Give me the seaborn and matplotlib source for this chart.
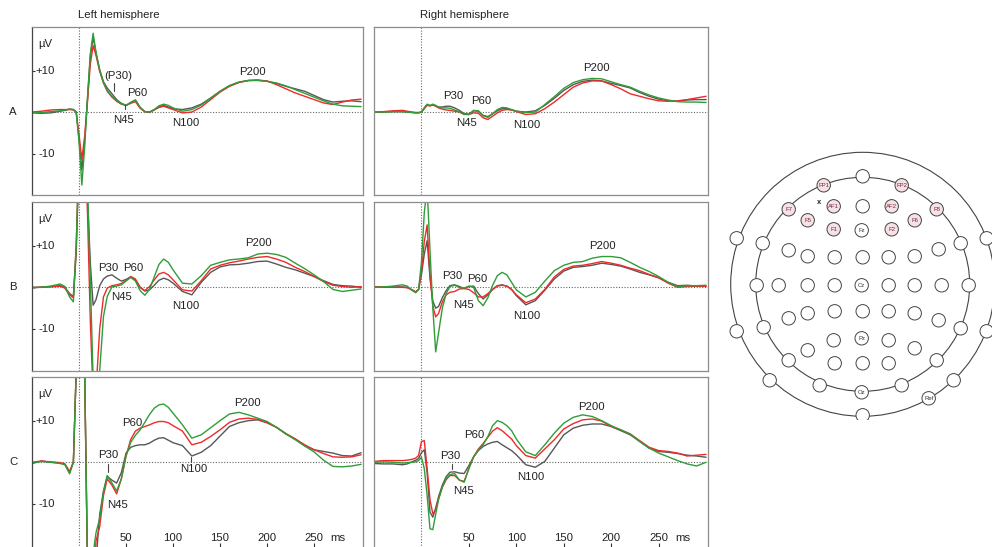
import pandas as pd
import matplotlib
matplotlib.use("Agg")
import matplotlib.pyplot as plt
from matplotlib.patches import Circle
import seaborn as sns

# time axis in ms, shared by every trace
t_ms = [-50, -40, -30, -20, -15, -10, -6, -3,
        0, 3, 6, 9, 12, 15, 18, 22, 26, 30,
        35, 40, 45, 50, 55, 60, 65, 70, 75, 80, 85, 90, 95, 100,
        110, 120, 130, 140, 150, 160, 170, 180, 190, 200,
        210, 220, 230, 240, 250, 260, 270, 280, 290, 300]

# --- row A ---
a_left_black = [-0.2, -0.3, -0.2, 0.2, 0.4, 0.7, 0.6, 0.0,
                -6.5, -14.0, -7.0, 3.0, 13.5, 18.0, 14.3, 10.2, 7.3, 5.8,
                4.4, 3.0, 2.1, 1.6, 2.3, 2.9, 1.1, 0.1, -0.1, 0.5, 1.2, 1.6, 1.2, 0.8,
                0.6, 1.0, 1.9, 3.4, 5.0, 6.3, 7.2, 7.6, 7.7, 7.4, 6.9, 6.2, 5.6, 5.0, 4.0, 3.0, 2.4, 2.6, 2.7, 2.5]
a_left_red = [0.0, 0.2, 0.5, 0.6, 0.6, 0.6, 0.5, 0.0,
              -5.5, -11.4, -5.8, 2.5, 11.5, 16.0, 13.7, 9.8, 7.0, 5.0,
              3.6, 2.6, 1.9, 1.6, 2.1, 2.5, 0.9, 0.1, 0.0, 0.6, 1.1, 1.4, 1.0, 0.6,
              -0.2, 0.0, 1.2, 3.0, 4.8, 6.2, 7.1, 7.6, 7.7, 7.5, 6.6, 5.6, 4.6, 3.8, 3.0, 2.2, 1.8, 2.4, 2.9, 3.1]
a_left_green = [-0.1, -0.1, 0.1, 0.3, 0.5, 0.7, 0.6, 0.0,
                -7.0, -17.6, -8.5, 3.5, 14.0, 19.0, 14.5, 10.0, 7.1, 5.2,
                3.8, 2.7, 2.0, 1.6, 2.3, 2.9, 1.1, 0.1, 0.0, 0.6, 1.5, 1.9, 1.6, 1.0,
                0.2, 0.6, 1.7, 3.3, 5.0, 6.4, 7.2, 7.6, 7.6, 7.4, 7.0, 6.3, 5.4, 4.5, 3.6, 2.7, 1.9, 1.5, 1.4, 1.3]

a_right_black = [0.0, 0.0, 0.1, 0.1, 0.0, -0.1, -0.2, -0.2,
                 0.0, 1.0, 1.8, 1.5, 1.7, 1.5, 1.2, 1.2, 1.4, 1.4,
                 1.0, 0.4, -0.4, -0.5, 0.3, 0.2, -0.8, -1.1, -0.4, 0.3, 0.8, 0.8, 0.5, 0.2,
                 0.0, 0.3, 1.6, 3.3, 5.2, 6.6, 7.4, 7.7, 7.5, 6.9, 6.4, 5.8, 4.7, 3.8, 3.1, 2.7, 2.6, 2.9, 3.0, 3.0]
a_right_red = [0.0, 0.1, 0.3, 0.4, 0.2, 0.0, -0.1, -0.1,
               0.0, 0.8, 1.6, 1.5, 1.7, 1.4, 1.0, 0.7, 0.5, 0.4,
               0.2, 0.0, -0.5, -0.6, -0.2, -0.3, -1.4, -1.8, -1.0, -0.2, 0.4, 0.6, 0.5, 0.1,
               -0.6, -0.4, 0.8, 2.4, 4.2, 6.0, 7.0, 7.5, 7.5, 6.6, 5.6, 4.4, 3.8, 3.2, 2.7, 2.6, 2.7, 3.0, 3.4, 3.8]
a_right_green = [0.0, 0.0, 0.1, 0.1, 0.0, -0.1, -0.2, -0.2,
                 0.0, 1.0, 1.9, 1.6, 1.9, 1.6, 1.2, 1.0, 1.0, 0.9,
                 0.5, 0.0, -0.6, -0.6, 0.4, 0.3, -0.9, -1.3, -0.4, 0.6, 1.1, 1.0, 0.6, 0.2,
                 -0.1, 0.0, 1.8, 3.7, 5.7, 7.1, 7.8, 8.1, 8.0, 7.3, 6.6, 6.0, 5.0, 4.1, 3.4, 2.9, 2.5, 2.4, 2.4, 2.3]

# --- row B ---
b_left_black = [-0.2, 0.1, 0.2, 0.4, 0.0, -1.5, -2.2, 8.0,
                30.0, 45.0, 38.0, 22.0, 6.0, -4.3, -3.0, 0.4, 2.0, 2.7,
                3.0, 2.2, 1.5, 1.9, 2.5, 1.7, 0.0, -0.9, -0.6, 0.5, 1.7, 2.2, 1.8, 1.0,
                -1.0, -1.8, 1.2, 3.6, 4.9, 5.4, 5.5, 5.8, 6.2, 6.3, 5.6, 4.8, 4.2, 3.4, 2.6, 1.6, 0.7, 0.4, 0.3, 0.0]
b_left_red = [0.0, 0.0, 0.1, 0.3, -0.2, -1.8, -2.5, 10.0,
              32.0, 45.0, 35.0, 18.0, -8.0, -26.0, -25.0, -10.0, -2.3, -0.2,
              0.4, 0.6, 0.9, 1.7, 2.6, 2.0, 0.0, -0.8, 0.2, 1.8, 3.2, 3.6, 3.0, 1.8,
              -0.6, -0.9, 1.6, 4.4, 5.3, 5.9, 6.3, 6.8, 7.2, 7.4, 6.8, 6.0, 4.8, 3.8, 2.6, 1.4, 0.5, 0.2, 0.0, 0.2]
b_left_green = [0.0, 0.0, 0.3, 0.8, 0.2, -2.3, -3.5, 10.0,
                33.0, 46.0, 38.0, 24.0, 2.0, -22.0, -32.0, -20.0, -7.0, -2.2,
                0.1, 0.3, 0.6, 1.5, 2.4, 1.5, -0.8, -1.9, -0.5, 2.5, 5.5, 6.8, 6.0, 4.2,
                1.0, 0.8, 2.8, 5.3, 6.0, 6.6, 6.8, 7.1, 8.0, 8.2, 7.9, 7.2, 5.8, 4.5, 3.0, 1.4, -0.5, -1.0, -0.7, -0.4]

b_right_black = [0.2, 0.0, 0.1, 0.1, 0.0, -0.6, -1.1, -0.5,
                 3.0, 8.0, 11.2, 2.3, -3.3, -5.0, -4.6, -2.5, -0.8, 0.4,
                 0.6, 0.2, -0.3, 0.2, 0.3, -1.5, -2.8, -1.8, -0.5, 0.4, 0.6, 0.3, -0.5, -2.0,
                 -4.2, -3.2, -0.7, 2.0, 3.9, 4.8, 5.0, 5.3, 5.8, 5.5, 5.1, 4.4, 3.6, 3.0, 2.3, 1.2, 0.4, 0.5, 0.3, 0.3]
b_right_red = [0.1, 0.1, 0.0, 0.0, -0.1, -0.6, -1.1, -0.5,
               4.0, 11.0, 15.0, 3.0, -4.5, -7.1, -6.3, -3.5, -1.8, -1.2,
               -1.0, -0.4, -0.3, -0.5, -1.3, -2.3, -2.3, -1.5, -0.5, 0.3, 0.5, 0.3, -0.5, -1.8,
               -3.7, -2.8, -0.5, 2.5, 4.3, 5.1, 5.3, 5.7, 6.2, 5.8, 5.3, 4.6, 4.0, 3.1, 2.3, 1.0, 0.0, 0.2, 0.3, 0.2]
b_right_green = [0.0, 0.1, 0.3, 0.6, 0.3, -0.7, -1.3, -0.5,
                 6.0, 18.0, 24.0, 9.0, -5.0, -15.5, -11.0, -5.0, -1.5, 0.2,
                 0.5, 0.0, -0.2, 0.3, 0.0, -3.2, -4.4, -2.5, 0.5, 2.8, 3.6, 3.0, 1.2, -0.6,
                 -2.3, -1.2, 1.5, 4.0, 5.3, 6.0, 6.2, 7.0, 7.4, 7.4, 7.1, 6.0, 4.8, 3.8, 2.6, 1.2, 0.2, 0.4, 0.4, 0.5]

# --- row C ---
c_left_black = [-0.3, 0.3, 0.0, -0.2, -0.5, -2.4, 0.0, 22.0,
                45.0, 40.0, 22.0, -25.0, -45.0, -38.0, -24.0, -12.5, -7.0, -3.4,
                -4.3, -5.0, -2.5, 2.2, 3.6, 4.0, 4.2, 4.2, 4.6, 5.3, 5.8, 5.9, 5.3, 4.7,
                4.0, 1.5, 2.4, 4.0, 6.3, 8.6, 9.5, 10.0, 10.2, 9.5, 8.4, 6.9, 5.6, 4.0, 3.0, 2.6, 2.2, 1.6, 1.5, 2.3]
c_left_red = [0.0, 0.3, 0.1, -0.1, -0.4, -2.2, 0.0, 22.0,
              45.0, 40.0, 22.0, -25.0, -45.0, -35.0, -19.0, -15.5, -8.0, -4.0,
              -5.5, -7.6, -4.0, 1.5, 5.5, 7.5, 8.2, 8.6, 9.0, 9.5, 9.8, 9.8, 9.5, 8.8,
              7.5, 4.2, 4.8, 6.2, 7.8, 9.6, 10.4, 10.6, 10.3, 9.5, 8.4, 6.8, 5.6, 4.2, 3.0, 2.1, 1.3, 1.2, 1.3, 1.8]
c_left_green = [-0.2, 0.2, 0.0, -0.3, -0.6, -2.8, 0.0, 22.0,
                45.0, 40.0, 22.0, -25.0, -45.0, -22.0, -17.0, -13.5, -7.0, -3.2,
                -5.0, -6.9, -4.0, 1.5, 4.8, 6.5, 7.8, 9.6, 11.5, 13.0, 13.8, 14.0, 13.2, 11.8,
                9.0, 5.8, 6.6, 8.3, 10.0, 11.6, 12.0, 11.4, 10.6, 9.8, 8.4, 6.8, 5.4, 3.9, 2.5, 0.5, -1.0, -1.1, -0.9, -0.5]

c_right_black = [-0.3, -0.4, -0.4, -0.6, -0.4, 0.1, 0.5, 0.9,
                 2.3, 3.0, -2.5, -12.0, -13.2, -11.0, -8.3, -5.5, -3.5, -2.4,
                 -2.3, -2.6, -2.7, -0.8, 1.3, 2.8, 3.8, 4.4, 4.8, 5.0, 4.2, 3.5, 2.8, 1.8,
                 -0.6, -1.2, 0.2, 3.4, 6.6, 8.2, 8.9, 9.2, 9.2, 8.6, 7.6, 6.6, 5.0, 3.4, 2.6, 2.4, 2.1, 1.7, 1.5, 1.2]
c_right_red = [0.2, 0.4, 0.4, 0.4, 0.5, 0.7, 1.0, 1.6,
               5.0, 5.2, -1.5, -9.0, -12.4, -11.5, -8.8, -6.0, -4.2, -3.2,
               -3.2, -4.3, -4.6, -1.5, 1.3, 3.2, 4.5, 6.0, 7.5, 8.3, 7.6, 6.6, 5.6, 4.0,
               1.6, 1.0, 3.2, 5.4, 8.0, 9.3, 10.2, 10.4, 9.9, 8.6, 7.8, 6.8, 5.2, 3.6, 2.8, 2.6, 2.2, 1.5, 1.7, 1.9]
c_right_green = [0.0, 0.1, 0.0, -0.2, -0.1, 0.0, 0.1, 0.4,
                 1.2, -1.5, -8.0, -16.0, -16.2, -12.5, -9.0, -6.0, -4.0, -3.0,
                 -2.7, -4.3, -4.8, -1.5, 1.3, 3.0, 4.2, 6.2, 8.8, 10.0, 9.6, 8.8, 7.6, 5.6,
                 2.5, 1.6, 4.2, 7.0, 9.4, 10.8, 11.4, 11.0, 10.0, 8.8, 7.8, 6.8, 5.0, 3.4, 2.2, 1.3, 0.4, -0.4, -0.9, 0.0]

x_tick_ms = [50, 100, 150, 200, 250]
y_tick_uv = [-10, 10]

# electrode montage (head-centred coordinates)
elec_names = ["", "FP1", "FP2", "F7", "F8", "", "", "", "", "", "", "", "", "", "", "Oz",
              "", "", "", "", "", "", "Ref", "",
              "AF1", "", "AF2", "F5", "F6", "F1", "Fz", "F2",
              "", "", "", "", "", "", "",
              "", "", "", "Cz", "", "", "",
              "", "", "", "", "", "", "",
              "", "Pz", "", "", "",
              "", "", ""]
elec_x = [0, -39, 39, -74, 74, -100, 98, -106, 106, -99, 98, -74, 74, -43, 39, -1,
          -126, 124, -126, 124, -93, 91, 66, 0,
          -29, 0, 29, -55, 52, -29, -1, 29,
          -74, -55, -28, 0, 26, 52, 76,
          -84, -55, -28, -1, 26, 52, 79,
          -74, -55, -28, 0, 26, 52, 76,
          -29, -1, 26, -55, 52,
          -28, 0, 26]
elec_y = [108, 99, 99, 75, 75, 41, 41, -1, -1, -43, -44, -76, -76, -101, -101, -108,
          46, 46, -47, -47, -96, -96, -114, -131,
          78, 78, 78, 64, 64, 55, 54, 55,
          34, 28, 27, 27, 27, 28, 35,
          -1, -1, -1, -1, -1, -1, -1,
          -34, -29, -27, -27, -27, -29, -36,
          -56, -54, -56, -66, -64,
          -79, -79, -79]
highlight = ["FP1", "FP2", "F7", "F8", "AF1", "AF2", "F5", "F6", "F1", "F2"]

traces = {
    ("A", "left"): (a_left_black, a_left_red, a_left_green),
    ("A", "right"): (a_right_black, a_right_red, a_right_green),
    ("B", "left"): (b_left_black, b_left_red, b_left_green),
    ("B", "right"): (b_right_black, b_right_red, b_right_green),
    ("C", "left"): (c_left_black, c_left_red, c_left_green),
    ("C", "right"): (c_right_black, c_right_red, c_right_green),
}

# peak labels: (text, ms, uV) and small marker lines (ms, uV from, uV to)
peak_labels = {
    ("A", "left"): [("(P30)", 42, 8.7), ("P60", 62, 4.7), ("N45", 47.5, -1.9), ("N100", 113, -2.6), ("P200", 184.5, 9.7)],
    ("A", "right"): [("P30", 33, 3.9), ("P60", 63, 2.7), ("N45", 47, -2.7), ("N100", 111, -3.2), ("P200", 184, 10.5)],
    ("B", "left"): [("P30", 31, 4.7), ("P60", 58, 4.7), ("N45", 45, -2.3), ("N100", 114, -4.4), ("P200", 190.5, 10.6)],
    ("B", "right"): [("P30", 32, 2.7), ("P60", 59, 2.0), ("N45", 44.5, -4.3), ("N100", 111.5, -6.8), ("P200", 191, 10.0)],
    ("C", "left"): [("P30", 31.4, 1.8), ("P60", 56.6, 9.4), ("N45", 41, -10.3), ("N100", 122, -1.7), ("P200", 179.6, 14.2)],
    ("C", "right"): [("P30", 30.5, 1.6), ("P60", 56, 6.6), ("N45", 43.8, -6.8), ("N100", 115, -3.6), ("P200", 179.6, 13.2)],
}
peak_marks = {
    ("A", "left"): [(37, 5.1, 7.1), (48.7, 0.65, 1.7)],
    ("C", "left"): [(30.7, -2.3, -0.5), (119.3, 0.15, 1.2)],
    ("C", "right"): [(32.2, -1.7, -0.5)],
}

sns.set_style("white")
plt.rcParams["font.family"] = ["Liberation Sans", "DejaVu Sans"]

W, H = 992, 547
fig = plt.figure(figsize=(W / 100, H / 100), dpi=100)


def px_axes(x0, y0, x1, y1):
    return fig.add_axes([x0 / W, 1 - y1 / H, (x1 - x0) / W, (y1 - y0) / H])


col_px = {"left": (32, 363), "right": (374, 708)}
row_px = {"A": (27, 195), "B": (202, 371), "C": (377, 550)}
row_ylim = {"A": (-20.0, 20.5), "B": (-20.1, 20.5), "C": (-21.1, 20.5)}
row_label_y = {"A": 112, "B": 287, "C": 462}
palette = {"black": "#575757", "red": "#ee2a2a", "green": "#2f9d38"}
txt_size = 8.2

for (row, side), (k, r, g) in traces.items():
    ax = px_axes(col_px[side][0], row_px[row][0], col_px[side][1], row_px[row][1])
    df = pd.DataFrame({
        "t": t_ms * 3,
        "uV": k + r + g,
        "trace": ["black"] * len(k) + ["red"] * len(r) + ["green"] * len(g),
    })
    sns.lineplot(data=df, x="t", y="uV", hue="trace", hue_order=["black", "red", "green"],
                 palette=palette, estimator=None, sort=False, linewidth=1.0,
                 legend=False, ax=ax)
    ax.axhline(0, color="#666666", lw=0.8, ls=(0, (1, 1.5)), zorder=0)
    ax.axvline(0, color="#666666", lw=0.8, ls=(0, (1, 1.5)), zorder=0)
    ax.set_xlim(-50, 302)
    ax.set_ylim(*row_ylim[row])
    ax.set_xlabel("")
    ax.set_ylabel("")
    for s in ax.spines.values():
        s.set_color("#8c8c8c")
        s.set_linewidth(0.9)

    if side == "left":
        ax.spines["left"].set_color("#444444")
        ax.set_yticks(y_tick_uv)
        ax.set_yticklabels([])
        ax.tick_params(axis="y", left=True, direction="in", length=2.5, width=0.8, color="#333333")
        ax.text(-25.5, 10, "+10", ha="right", va="center", fontsize=txt_size, color="#222222")
        ax.text(-25.5, -10, "-10", ha="right", va="center", fontsize=txt_size, color="#222222")
        ax.text(-36, 16.4, "µV", ha="center", va="center", fontsize=txt_size, color="#222222")
    else:
        ax.set_yticks([])

    if row == "C":
        ax.set_xticks(x_tick_ms)
        ax.set_xticklabels([])
        ax.tick_params(axis="x", bottom=True, direction="in", length=5, width=0.8, color="#333333")
        for tk in x_tick_ms:
            ax.text(tk, -18.1, str(tk), ha="center", va="center", fontsize=txt_size, color="#222222")
        ax.text(275, -18.1, "ms", ha="center", va="center", fontsize=txt_size, color="#222222")
    else:
        ax.set_xticks([])

    for label, tx, ty in peak_labels[(row, side)]:
        ax.text(tx, ty, label, ha="center", va="center", fontsize=txt_size, color="#222222")
    for tx, y0, y1 in peak_marks.get((row, side), []):
        ax.plot([tx, tx], [y0, y1], color="#444444", lw=0.8)

for row, yc in row_label_y.items():
    fig.text(13 / W, 1 - yc / H, row, ha="center", va="center", fontsize=txt_size, color="#222222")
fig.text(78 / W, 1 - 15 / H, "Left hemisphere", ha="left", va="center", fontsize=txt_size, color="#222222")
fig.text(420 / W, 1 - 15 / H, "Right hemisphere", ha="left", va="center", fontsize=txt_size, color="#222222")

# electrode map
axm = px_axes(720, 150, 992, 420)
axm.set_xlim(-142.7, 129.3)
axm.set_ylim(-135.7, 134.3)
axm.axis("off")
axm.add_patch(Circle((0, 0), 132, fill=False, ec="#444444", lw=0.8))
axm.add_patch(Circle((0, 0), 107, fill=False, ec="#444444", lw=0.8))
for name, ex, ey in zip(elec_names, elec_x, elec_y):
    fc = "#f4e2e6" if name in highlight else "white"
    axm.add_patch(Circle((ex, ey), 6.7, fc=fc, ec="#444444", lw=0.7, zorder=3))
    if name:
        tc = "#7a2838" if name in highlight else "#333333"
        axm.text(ex, ey, name, ha="center", va="center", fontsize=4.3, color=tc, zorder=4)
axm.text(-44, 82, "x", ha="center", va="center", fontsize=5.5, fontweight="bold", color="#222222")

fig.savefig("out.png", dpi=100)
